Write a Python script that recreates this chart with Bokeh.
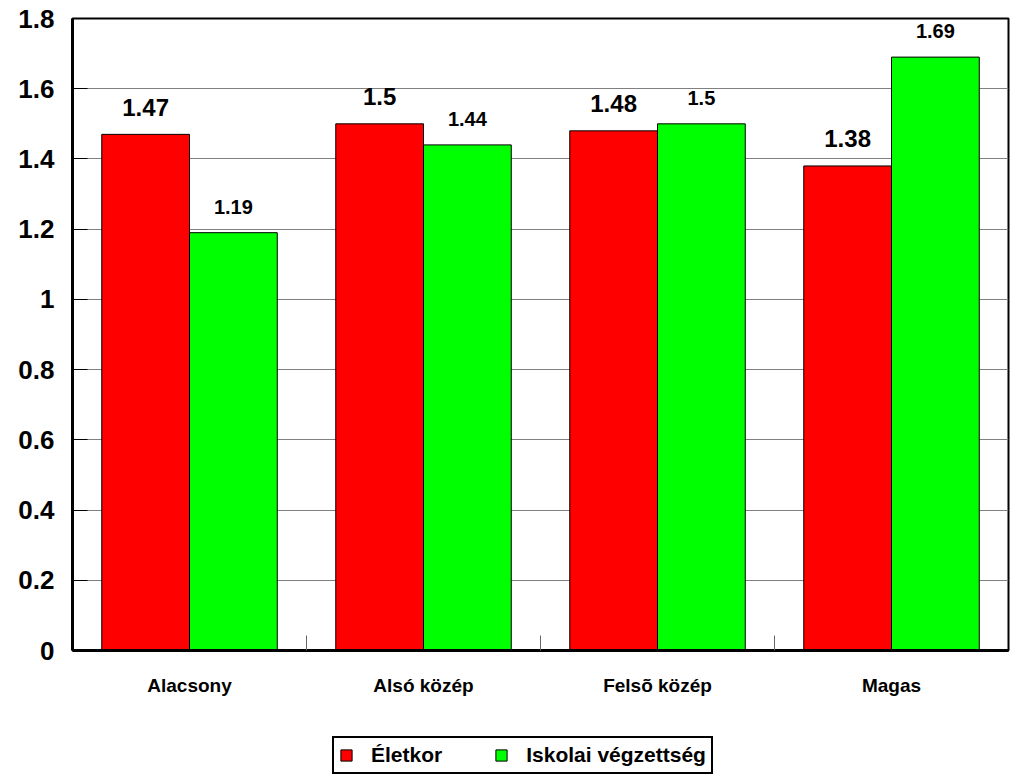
from bokeh.plotting import figure
from bokeh.layouts import column
from bokeh.models import (Range1d, FixedTicker, LinearAxis, Legend, LegendItem,
                          ColumnDataSource, Grid)
from bokeh.transform import dodge
from bokeh.core.properties import value
from bokeh.embed import file_html
from bokeh.resources import INLINE

categories = ["Alacsony", "Alsó közép", "Felsõ közép", "Magas"]
eletkor = [1.47, 1.50, 1.48, 1.38]
iskolai = [1.19, 1.44, 1.50, 1.69]
eletkor_labels = ["1.47", "1.5", "1.48", "1.38"]
iskolai_labels = ["1.19", "1.44", "1.5", "1.69"]
series_names = ["Életkor", "Iskolai végzettség"]
y_ticks = [0, 0.2, 0.4, 0.6, 0.8, 1.0, 1.2, 1.4, 1.6, 1.8]
y_tick_labels = ["0", "0.2", "0.4", "0.6", "0.8", "1", "1.2", "1.4", "1.6", "1.8"]

FONT = "Liberation Sans"
RED = "#FF0000"
GREEN = "#00FF00"

n = len(categories)
centers = [i + 0.5 for i in range(n)]
separators = [i for i in range(1, n)]

src = ColumnDataSource(dict(x=centers, eletkor=eletkor, iskolai=iskolai,
                            el=eletkor_labels, il=iskolai_labels))

p = figure(width=1010, height=735, x_range=Range1d(0, n), y_range=Range1d(0, 1.8),
           output_backend="svg", toolbar_location=None,
           x_axis_location=None, y_axis_location=None,
           min_border_left=72, min_border_right=2, min_border_top=18,
           min_border_bottom=85)
p.outline_line_color = "black"
p.outline_line_width = 2
p.background_fill_color = "white"
p.border_fill_color = "white"
for g in list(p.xgrid) + list(p.ygrid):
    g.visible = False

yaxis = LinearAxis(ticker=FixedTicker(ticks=y_ticks),
                   major_label_overrides=dict(zip(y_ticks, y_tick_labels)),
                   major_tick_in=15, major_tick_out=0,
                   major_tick_line_color="black",
                   minor_tick_line_color=None,
                   axis_line_width=3, axis_line_color="black",
                   major_label_text_font=FONT, major_label_text_font_style="bold",
                   major_label_text_font_size="26px", major_label_standoff=18,
                   major_label_text_color="black")
p.add_layout(yaxis, "left")

p.add_layout(Grid(dimension=1, ticker=FixedTicker(ticks=y_ticks),
                  grid_line_color="#808080", grid_line_width=1))

tick_axis = LinearAxis(ticker=FixedTicker(ticks=separators),
                       major_tick_in=15, major_tick_out=0,
                       major_tick_line_color="#666666",
                       minor_tick_line_color=None,
                       major_label_text_font_size="0px", major_label_standoff=0,
                       axis_line_width=3, axis_line_color="black")
p.add_layout(tick_axis, "below")

label_axis = LinearAxis(ticker=FixedTicker(ticks=centers),
                        major_label_overrides=dict(zip(centers, categories)),
                        axis_line_color=None, major_tick_line_color=None,
                        minor_tick_line_color=None,
                        major_tick_in=0, major_tick_out=0,
                        major_label_text_font=FONT, major_label_text_font_style="bold",
                        major_label_text_font_size="19px", major_label_standoff=24,
                        major_label_text_color="black")
p.add_layout(label_axis, "below")

bar_style = dict(width=0.375, line_color="black", line_width=1)
p.vbar(x=dodge("x", -0.1875, range=p.x_range), top="eletkor", source=src,
       fill_color=RED, **bar_style)
p.vbar(x=dodge("x", 0.1875, range=p.x_range), top="iskolai", source=src,
       fill_color=GREEN, **bar_style)

p.text(x=dodge("x", -0.1875, range=p.x_range), y="eletkor", text="el", source=src,
       text_font=value(FONT), text_font_style="bold", text_font_size="24px",
       text_align="center", text_baseline="alphabetic", y_offset=-27,
       text_color="black")
p.text(x=dodge("x", 0.1875, range=p.x_range), y="iskolai", text="il", source=src,
       text_font=value(FONT), text_font_style="bold", text_font_size="20px",
       text_align="center", text_baseline="alphabetic", y_offset=-26,
       text_color="black")

# legend strip (separate figure so that the legend is not clipped by the chart frame)
lg = figure(width=1010, height=41, x_range=Range1d(0, n), y_range=Range1d(100, 101),
            output_backend="svg", toolbar_location=None,
            x_axis_location=None, y_axis_location=None,
            min_border_left=0, min_border_right=0, min_border_top=0,
            min_border_bottom=0)
lg.outline_line_color = None
lg.border_fill_color = "white"
lg.background_fill_color = "white"
for g in list(lg.xgrid) + list(lg.ygrid):
    g.visible = False
l1 = lg.vbar(x="x", top="eletkor", source=src, fill_color=RED, **bar_style)
l2 = lg.vbar(x="x", top="iskolai", source=src, fill_color=GREEN, **bar_style)

legend = Legend(items=[LegendItem(label=series_names[0], renderers=[l1], index=0),
                       LegendItem(label=series_names[1], renderers=[l2], index=0)],
                orientation="horizontal", location=(260, 2),
                border_line_color="black", border_line_width=2, border_line_alpha=1,
                background_fill_color="white", background_fill_alpha=1,
                label_text_font=FONT, label_text_font_style="bold",
                label_text_font_size="21px", label_text_color="black",
                glyph_width=14, glyph_height=14, label_standoff=18,
                spacing=52, padding=5, margin=0, label_height=18)
lg.add_layout(legend, "center")

layout = column(p, lg, spacing=0)
open("out.html", "w").write(file_html(layout, INLINE))
